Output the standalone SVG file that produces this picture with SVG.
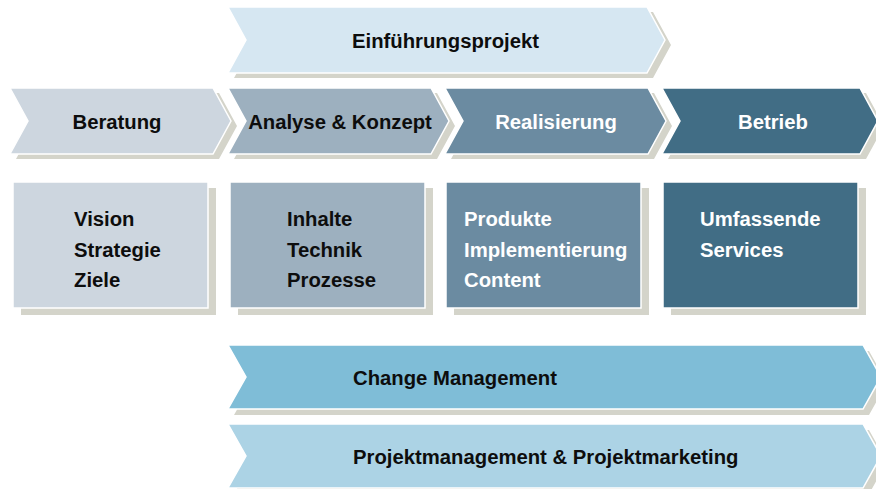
<svg xmlns="http://www.w3.org/2000/svg" width="876" height="489" viewBox="0 0 876 489">
<style>
.sh{fill:#d4d4ca}
.sp{stroke:#ffffff;stroke-width:1.5}
.t{font-family:"Liberation Sans",Arial,sans-serif;font-weight:bold;font-size:20.3px;fill:#0d0d0d}
.w{fill:#ffffff}
.c{text-anchor:middle}
</style>
<rect width="876" height="489" fill="#ffffff"/>
<g id="einfuehrungsprojekt">
<path class="sh" d="M234,12 H653 L671,45 L653,78 H234 L252,45 Z"/>
<path class="sp" fill="#d6e7f2" d="M228,7 H647 L665,40 L647,73 H228 L246,40 Z"/>
<text class="t" x="352" y="48">Einführungsprojekt</text>
</g>
<g id="beratung">
<path class="sh" d="M16,93 H219 L237,126 L219,159 H16 L34,126 Z"/>
<path class="sp" fill="#cdd6df" d="M10,88 H213 L231,121 L213,154 H10 L28,121 Z"/>
<text class="t c" x="117" y="129">Beratung</text>
</g>
<g id="analyse">
<path class="sh" d="M234,93 H437 L455,126 L437,159 H234 L252,126 Z"/>
<path class="sp" fill="#9db0bf" d="M228,88 H431 L449,121 L431,154 H228 L246,121 Z"/>
<text class="t c" x="340" y="129">Analyse &amp; Konzept</text>
</g>
<g id="realisierung">
<path class="sh" d="M451,93 H654 L672,126 L654,159 H451 L469,126 Z"/>
<path class="sp" fill="#6b8ba1" d="M445,88 H648 L666,121 L648,154 H445 L463,121 Z"/>
<text class="t c w" x="556" y="129">Realisierung</text>
</g>
<g id="betrieb">
<path class="sh" d="M668,93 H866 L884,126 L866,159 H668 L686,126 Z"/>
<path class="sp" fill="#416d85" d="M662,88 H860 L878,121 L860,154 H662 L680,121 Z"/>
<text class="t c w" x="773" y="129">Betrieb</text>
</g>
<g id="box-beratung">
<rect class="sh" x="21" y="188" width="195" height="127"/>
<rect class="sp" fill="#cdd6df" x="13" y="182" width="195" height="126"/>
<text class="t" x="74" y="226">Vision</text>
<text class="t" x="74" y="257">Strategie</text>
<text class="t" x="74" y="287">Ziele</text>
</g>
<g id="box-analyse">
<rect class="sh" x="238" y="188" width="195" height="127"/>
<rect class="sp" fill="#9db0bf" x="230" y="182" width="195" height="126"/>
<text class="t" x="287" y="226">Inhalte</text>
<text class="t" x="287" y="257">Technik</text>
<text class="t" x="287" y="287">Prozesse</text>
</g>
<g id="box-realisierung">
<rect class="sh" x="454" y="188" width="195" height="127"/>
<rect class="sp" fill="#6b8ba1" x="446" y="182" width="195" height="126"/>
<text class="t w" x="464" y="226">Produkte</text>
<text class="t w" x="464" y="257">Implementierung</text>
<text class="t w" x="464" y="287">Content</text>
</g>
<g id="box-betrieb">
<rect class="sh" x="671" y="188" width="195" height="127"/>
<rect class="sp" fill="#416d85" x="663" y="182" width="195" height="126"/>
<text class="t w" x="700" y="226">Umfassende</text>
<text class="t w" x="700" y="257">Services</text>
</g>
<g id="change-management">
<path class="sh" d="M234,351 H869 L887,383 L869,415 H234 L252,383 Z"/>
<path class="sp" fill="#7fbdd7" d="M228,345 H863 L881,377 L863,409 H228 L246,377 Z"/>
<text class="t" x="353" y="385">Change Management</text>
</g>
<g id="projektmanagement">
<path class="sh" d="M234,430 H869 L887,462 L869,494 H234 L252,462 Z"/>
<path class="sp" fill="#acd3e5" d="M228,424 H863 L881,456 L863,488 H228 L246,456 Z"/>
<text class="t" x="353" y="464">Projektmanagement &amp; Projektmarketing</text>
</g>
<g id="connectors"></g>
</svg>
